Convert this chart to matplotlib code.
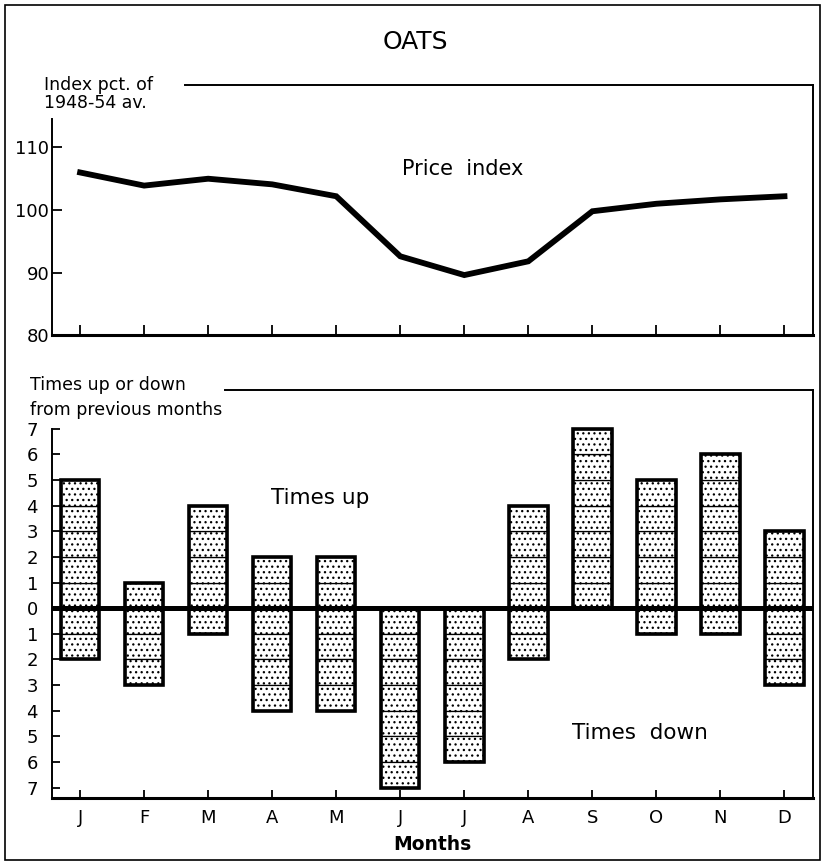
import matplotlib
matplotlib.use("Agg")
import matplotlib.pyplot as plt
from matplotlib.patches import Rectangle
import numpy as np

months = ["J", "F", "M", "A", "M", "J", "J", "A", "S", "O", "N", "D"]
price_index = [106.0, 103.9, 105.0, 104.1, 102.2, 92.6, 89.6, 91.8, 99.8, 101.0, 101.7, 102.2]
times_up = [5, 1, 4, 2, 2, 0, 0, 4, 7, 5, 6, 3]
times_down = [2, 3, 1, 4, 4, 7, 6, 2, 0, 1, 1, 3]

plt.rcParams['font.family'] = 'DejaVu Sans'
plt.rcParams['hatch.linewidth'] = 0.9

fig = plt.figure(figsize=(8.24, 8.66), dpi=100)
x = np.arange(len(months))

# outer frame
fig.patches.append(Rectangle((0.006, 0.007), 0.989, 0.987, transform=fig.transFigure,
                             fill=False, lw=1.2, ec='black'))
fig.text(0.504, 0.952, "OATS", ha='center', va='center', fontsize=18)

# --- price index panel
ax1 = fig.add_axes([0.063, 0.613, 0.924, 0.289])
ax1.plot(x, price_index, color='black', lw=4.2, solid_joinstyle='miter')
ax1.set_xlim(-0.44, 11.45)
ax1.set_ylim(80, 120)
ax1.set_yticks([80, 90, 100, 110])
ax1.set_yticklabels(["80", "90", "100", "110"])
ax1.set_xticks(x)
ax1.set_xticklabels([])
ax1.tick_params(direction='in', length=7, width=1.3, labelsize=13, pad=2)
ax1.spines['left'].set_bounds(80, 114.5)
ax1.spines['top'].set_bounds(1.64, 11.45)
for s in ax1.spines.values():
    s.set_linewidth(1.4)
ax1.spines['bottom'].set_linewidth(2.2)
ax1.text(5.97, 106.6, "Price  index", ha='center', va='center', fontsize=15)
fig.text(0.054, 0.902, "Index pct. of", fontsize=12.5, va='center')
fig.text(0.054, 0.881, "1948-54 av.", fontsize=12.5, va='center')

# --- times up / down panel
ax2 = fig.add_axes([0.063, 0.0785, 0.924, 0.471])
w = 0.6
for i in range(len(months)):
    for k in range(times_up[i]):
        ax2.bar(x[i], 1, bottom=k, width=w, color='white', hatch='...',
                edgecolor='black', lw=0.9)
    for k in range(times_down[i]):
        ax2.bar(x[i], -1, bottom=-k, width=w, color='white', hatch='...',
                edgecolor='black', lw=0.9)
    if times_up[i] + times_down[i] > 0:
        ax2.bar(x[i], times_up[i] + times_down[i], bottom=-times_down[i], width=w,
                fill=False, edgecolor='black', lw=2.6, zorder=3)
ax2.axhline(0, color='black', lw=3.6, zorder=4)
ax2.set_xlim(-0.44, 11.45)
ax2.set_ylim(-7.4, 8.5)
yt = np.arange(-7, 8)
ax2.set_yticks(yt)
ax2.set_yticklabels([str(abs(v)) for v in yt])
ax2.set_xticks(x)
ax2.set_xticklabels(months)
ax2.tick_params(direction='in', length=6, width=1.3, labelsize=13, pad=10)
ax2.tick_params(axis='x', pad=8)
ax2.spines['left'].set_bounds(-7.4, 7)
ax2.spines['top'].set_bounds(2.27, 11.45)
for s in ax2.spines.values():
    s.set_linewidth(1.4)
ax2.spines['bottom'].set_linewidth(2.2)
ax2.text(3.75, 4.3, "Times up", ha='center', va='center', fontsize=15.5)
ax2.text(8.75, -4.85, "Times  down", ha='center', va='center', fontsize=15.5)
ax2.set_xlabel("Months", fontsize=13.5, fontweight='bold', labelpad=6)
fig.text(0.036, 0.556, "Times up or down", fontsize=12.5, va='center')
fig.text(0.036, 0.526, "from previous months", fontsize=12.5, va='center')

fig.savefig("out.png", dpi=100)
